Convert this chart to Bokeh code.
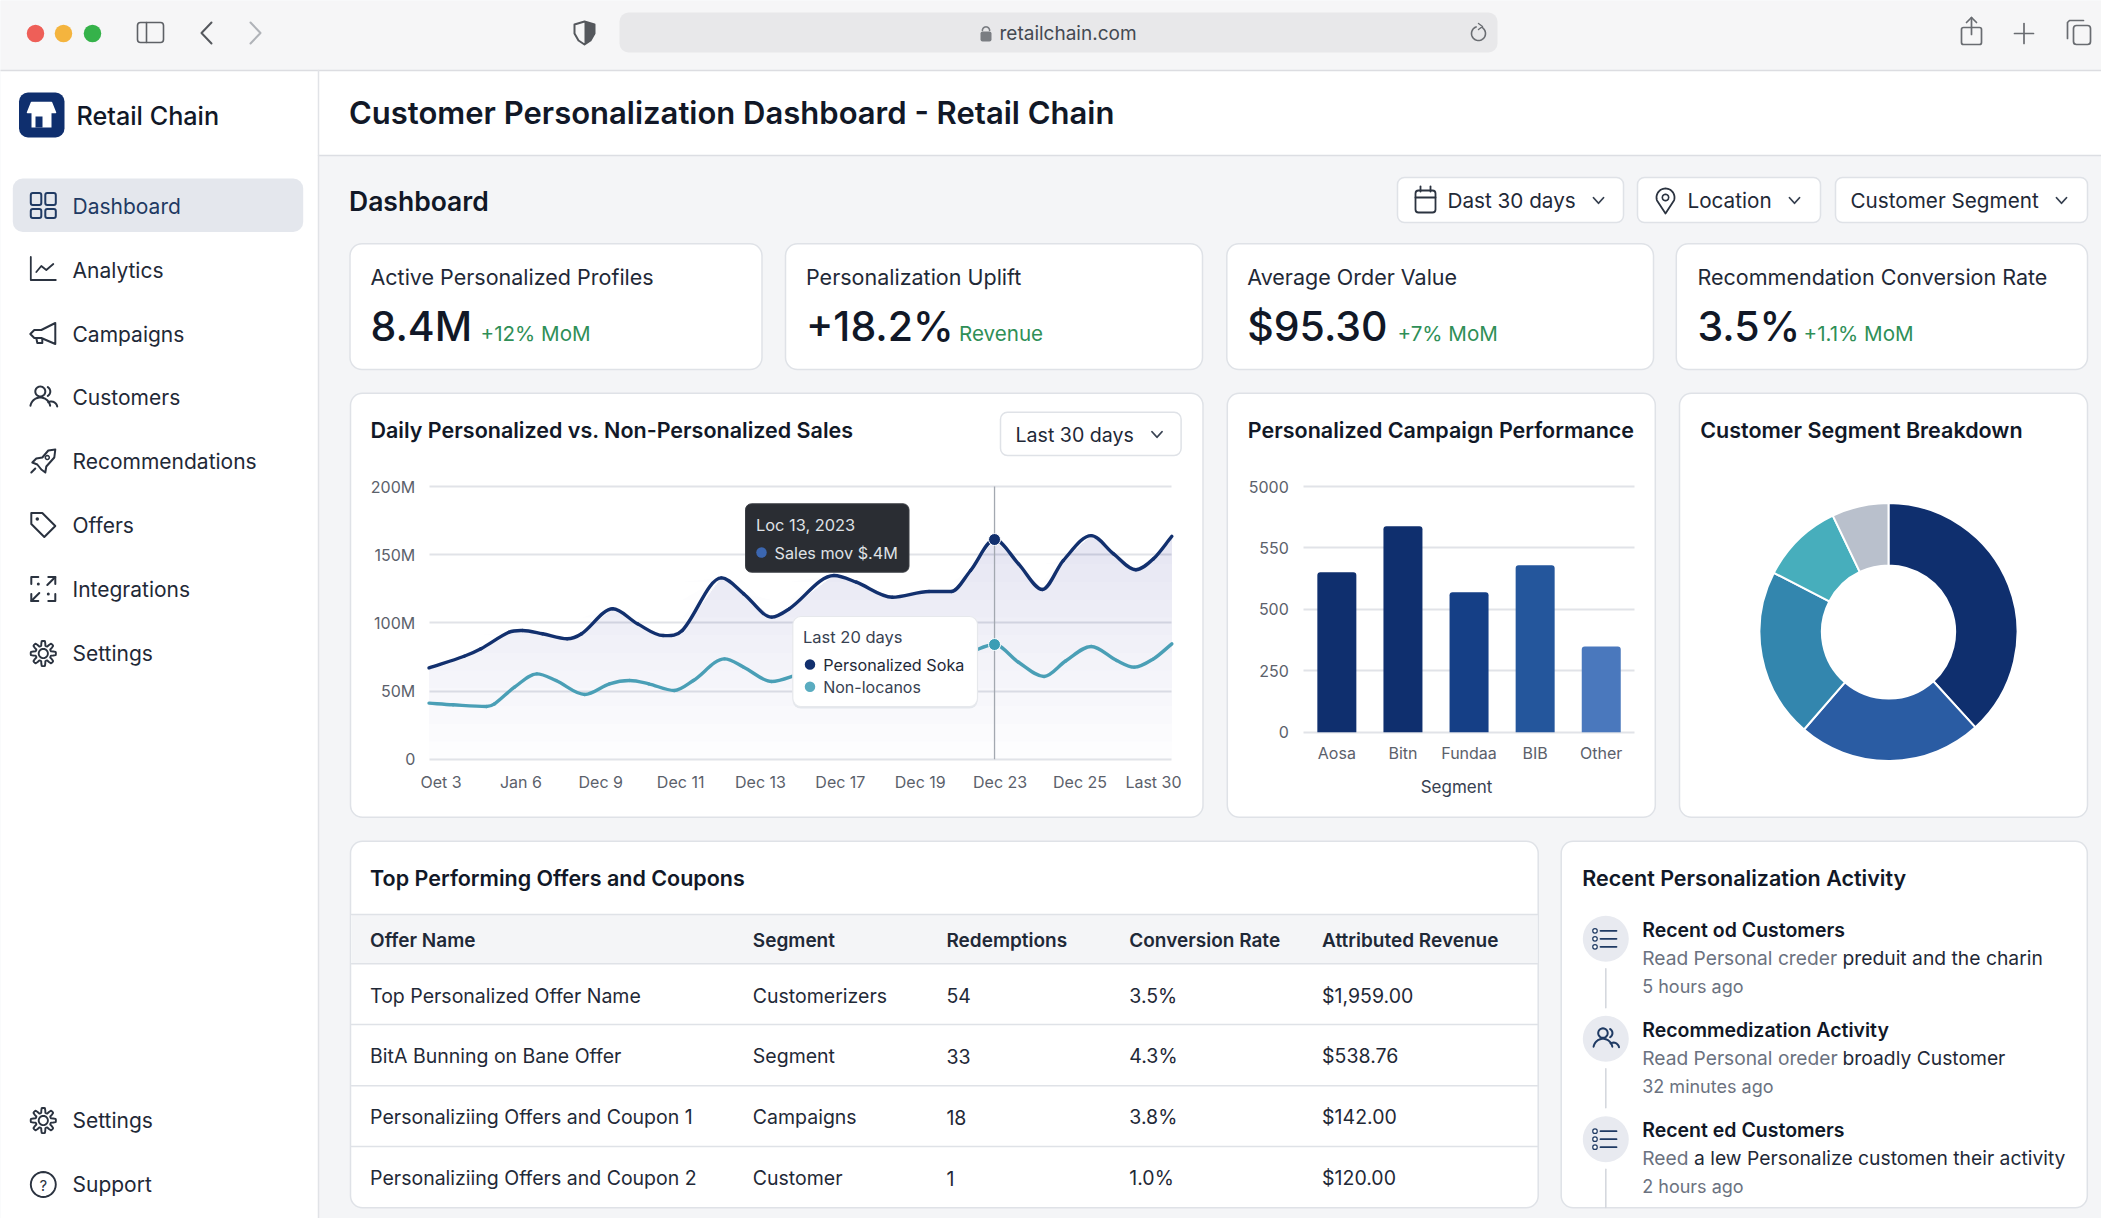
import math
from bokeh.plotting import figure
from bokeh.core.properties import value
from bokeh.models import Range1d, LinearAxis, FixedTicker, Grid
from bokeh.embed import file_html
from bokeh.resources import INLINE

# ---------- data ----------
line_days_personal = [-0.15,0.29,0.50,0.85,1.02,1.27,1.58,1.76,2.15,2.46,2.78,3.02,3.51,3.79,4.14,4.36,4.92,5.20,5.65,6.11,6.39,6.63,6.93,7.23,7.53,7.79,8.14,8.42,8.70,8.92,9.15]
personalized_sales = [67.0,75.5,81.0,93.1,94.4,92.0,88.3,92.0,110.3,99.3,90.7,94.4,133.0,121.3,104.2,110.3,134.7,129.8,118.8,123.0,123.0,138.4,161.1,143.3,124.5,145.7,164.0,150.6,138.9,147.0,163.5]
line_days_other = [-0.15,0.15,0.57,0.67,0.92,1.20,1.44,1.80,2.11,2.36,2.60,2.92,3.16,3.55,3.79,4.14,4.43,4.92,5.65,6.39,6.63,6.93,7.23,7.55,7.82,8.14,8.46,8.68,8.92,9.15]
other_sales = [41.1,39.9,38.7,40.6,52.8,62.6,57.7,47.5,55.3,57.7,55.3,50.4,57.7,73.6,67.5,57.0,61.4,72.0,70.0,74.0,78.5,84.1,71.1,60.7,72.0,82.7,72.4,67.5,73.6,84.6]
highlight_day = 6.93
highlight_personal = 161.1
highlight_other = 84.1
line_tick_pos = [0,1,2,3,4,5,6,7,8,8.92]
line_tick_labels = ["Oet 3","Jan 6","Dec 9","Dec 11","Dec 13","Dec 17","Dec 19","Dec 23","Dec 25","Last 30"]
line_y_ticks = [0,50,100,150,200]
line_y_labels = ["0","50M","100M","150M","200M"]

bar_categories = ["Aosa","Bitn","Fundaa","BIB","Other"]
bar_values = [651,838,570,679,349]
bar_y_ticks = [0,250,500,750,1000]
bar_y_labels = ["0","250","500","550","5000"]
bar_colors = ["#0f2f6e","#0f2f6e","#153f86","#24569c","#4a78bd"]

donut_values = [38.2,23.1,21.2,10.3,7.1]
donut_colors = ["#0f2f6e","#2a5ca3","#3386ae","#47aebc","#b9c0cc"]

nav_items = ["Dashboard","Analytics","Campaigns","Customers","Recommendations","Offers","Integrations","Settings"]
nav_bottom = ["Settings","Support"]

kpi_labels = ["Active Personalized Profiles","Personalization Uplift","Average Order Value","Recommendation Conversion Rate"]
kpi_values = ["8.4M","+18.2%","$95.30","3.5%"]
kpi_deltas = ["+12% MoM","Revenue","+7% MoM","+1.1% MoM"]

table_headers = ["Offer Name","Segment","Redemptions","Conversion Rate","Attributed Revenue"]
table_offers = ["Top Personalized Offer Name","BitA Bunning on Bane Offer","Personaliziing Offers and Coupon 1","Personaliziing Offers and Coupon 2"]
table_segments = ["Customerizers","Segment","Campaigns","Customer"]
table_redemptions = ["54","33","18","1"]
table_rates = ["3.5%","4.3%","3.8%","1.0%"]
table_revenue = ["$1,959.00","$538.76","$142.00","$120.00"]

activity_titles = ["Recent od Customers","Recommedization Activity","Recent ed Customers"]
activity_grey = ["Read Personal creder","Read Personal oreder","Reed"]
activity_dark = ["preduit and the charin","broadly Customer","a lew Personalize customen their activity"]
activity_times = ["5 hours ago","32 minutes ago","2 hours ago"]

# ---------- canvas in page pixels ----------
W, H = 2101, 1218
p = figure(width=W, height=H, x_range=Range1d(0, W), y_range=Range1d(H, 0),
           x_axis_type=None, y_axis_type=None, toolbar_location=None, output_backend="svg",
           min_border=0, outline_line_color=None, background_fill_color="#f4f5f7",
           border_fill_color="#f4f5f7")
p.grid.visible = False

FONT = "Inter"
HEAD = "Inter SemiBold"
MID = "Inter Medium"
INK = "#111827"
BODY = "#1f2937"
MUTE = "#6b7280"
ICON = "#2b3340"
GREEN = "#2f8f57"
LINE = "#dfe2e7"

def text(x, y, s, size, color=BODY, bold=False, align="left", font=FONT):
    if align == "left":
        x -= 1
    p.text([x], [y], text=[s], text_font=value(font), text_font_size=f"{size}px", text_color=color,
           text_font_style="bold" if bold else "normal", text_align=align, text_baseline="middle")

def box(l, t, r, b, fill="#ffffff", line=None, w=1.0, rad=0, level="image"):
    p.quad(left=[l], right=[r], top=[t], bottom=[b], fill_color=fill, line_color=line, line_width=w,
           border_radius=rad, level=level)

def path(pts, c=ICON, w=2.0, fill=None):
    xs = [a for a, _ in pts]
    ys = [b for _, b in pts]
    if fill:
        p.patch(xs, ys, fill_color=fill, line_color=None)
    if c:
        p.line(xs, ys, line_color=c, line_width=w, line_join="round", line_cap="round")

def arc(cx, cy, r, a0, a1, n=28):
    return [(cx + r*math.cos(math.radians(a0+(a1-a0)*i/n)), cy + r*math.sin(math.radians(a0+(a1-a0)*i/n))) for i in range(n+1)]

def chevron_down(cx, cy, c="#374151", s=5):
    path([(cx-s, cy-s*0.55), (cx, cy+s*0.55), (cx+s, cy-s*0.55)], c, 1.8)

def ranged(v0, px0, v1, px1, lo, hi):
    k = (v1-v0)/(px1-px0)
    return Range1d(v0+(lo-px0)*k, v0+(hi-px0)*k)

# ---------- page chrome ----------
box(0, 0, W, 70, "#f6f6f7", None)
box(0, 70, 318, H, "#ffffff", None)
box(318, 70, W, 155, "#ffffff", None)
path([(0, 70), (W, 70)], "#dcdde1", 1.5)
path([(318, 155), (W, 155)], "#dcdee3", 1.5)
path([(318, 70), (318, H)], "#e1e3e7", 1.5)

for cx, col in zip([35, 63, 92], ["#ee5f58", "#f4b43e", "#35b24a"]):
    p.scatter([cx], [33], size=17.5, fill_color=col, line_color=None)
box(137, 22, 163, 42, None, "#5e6166", 1.6, 3)
path([(146, 22), (146, 42)], "#5e6166", 1.6)
path([(211, 22), (201, 32.5), (211, 43)], "#55585d", 2.0)
path([(250, 22), (260, 32.5), (250, 43)], "#b0b3b8", 2.0)
# shield
sh = [(584, 21), (594, 24), (594, 33), (590, 40), (584, 44), (578, 40), (574, 33), (574, 24), (584, 21)]
path(sh, "#55585d", 2.0)
path([(584, 21), (594, 24), (594, 33), (590, 40), (584, 44), (584, 21)], None, fill="#55585d")
box(619, 12, 1497, 52, "#e8e8ea", None, rad=9)
text(1000, 33, "retailchain.com", 19, "#444a52")
box(980, 31, 991, 41, "#7a7d82", None, rad=2, level="glyph")
path(arc(985.5, 30, 3.6, 180, 360), "#7a7d82", 1.6)
path(arc(1478, 33, 7, -60, 250), "#6a6d72", 1.6)
path([(1478, 23), (1482, 26), (1478, 29)], "#6a6d72", 1.4)
# share / plus / tabs
box(1961, 27, 1981, 44, None, "#696c71", 1.7, 2)
path([(1971, 17), (1971, 34)], "#696c71", 1.7)
path([(1966, 22), (1971, 17), (1976, 22)], "#696c71", 1.7)
path([(2014, 33), (2033, 33)], "#696c71", 1.7)
path([(2023.5, 23), (2023.5, 43)], "#696c71", 1.7)
box(2073, 25, 2090, 44, None, "#696c71", 1.7, 3)
path([(2067, 38), (2067, 22), (2069, 20), (2083, 20)], "#696c71", 1.7)

# ---------- sidebar ----------
box(18.5, 92, 64, 137, "#0f2f6e", None, rad=9)
path([(31, 102), (51, 102), (55, 112), (27, 112), (31, 102)], "#ffffff", 1.5, "#ffffff")
box(31, 112, 51, 127, "#ffffff", None, level="glyph")
box(35, 116, 42, 127, "#0f2f6e", None, level="glyph")
text(77, 115, "Retail Chain", 25.2, INK, font=MID)

box(12.3, 178, 302.7, 231.5, "#e4e7ed", None, rad=10)
nav_y = [205.5, 269.5, 333.5, 397, 461, 524.5, 588.5, 653]
for i, (n, y) in enumerate(zip(nav_items, nav_y)):
    text(73, y, n, 21, "#1f3a63" if i == 0 else "#1f2937")

def ic_dash(cx, cy, c="#1f3a63"):
    for l, t, r, b in [(-12.5, -13, -2, -1), (2, -13, 12.5, -1), (-12.5, 3, -2, 12), (2, 3, 12.5, 12)]:
        box(cx+l, cy+t, cx+r, cy+b, None, c, 2, 2, level="glyph")

def ic_chart(cx, cy, c=ICON):
    path([(cx-12.5, cy-13), (cx-12.5, cy+10), (cx+12.5, cy+10)], c, 1.8)
    path([(cx-7, cy+2), (cx-2, cy-4), (cx+3, cy), (cx+10, cy-6)], c, 1.8)

def ic_horn(cx, cy, c=ICON):
    path([(cx+12, cy-11), (cx+12, cy+10), (cx-2, cy+4), (cx-9, cy+4), (cx-13, cy), (cx-9, cy-4), (cx-2, cy-4), (cx+12, cy-11)], c, 2)
    path([(cx-7, cy+4), (cx-6, cy+9), (cx-1, cy+9), (cx-1, cy+5)], c, 2)

def ic_users(cx, cy, c=ICON, s=1.0):
    path(arc(cx-3*s, cy-6*s, 5*s, 0, 360), c, 2)
    path(arc(cx-3*s, cy+10*s, 10*s, 190, 350), c, 2)
    path(arc(cx+2*s, cy-6*s, 5*s, -60, 60, 10), c, 2)
    path(arc(cx+8*s, cy+10*s, 6*s, 240, 350, 10), c, 2)

def ic_rocket(cx, cy, c=ICON):
    path([(cx+12, cy-12), (cx+11, cy-4), (cx+3, cy+5), (cx+2, cy+11), (cx-2, cy+8), (cx-6, cy+3), (cx-11, cy+1), (cx-7, cy-3), (cx-1, cy-4), (cx+5, cy-11), (cx+12, cy-12)], c, 2)
    path(arc(cx+4, cy-4, 2, 0, 360, 12), c, 1.5)
    path([(cx-8, cy+7), (cx-12, cy+11)], c, 2)

def ic_tag(cx, cy, c=ICON):
    path([(cx-12, cy-12), (cx-1, cy-12), (cx+12, cy+1), (cx+1, cy+12), (cx-12, cy-1), (cx-12, cy-12)], c, 2)
    p.scatter([cx-6], [cy-6], size=3.5, fill_color=c, line_color=None)

def ic_expand(cx, cy, c=ICON):
    path([(cx-12, cy-5), (cx-12, cy-12), (cx-5, cy-12)], c, 2)
    path([(cx+12, cy+5), (cx+12, cy+12), (cx+5, cy+12)], c, 2)
    path([(cx+5, cy-12), (cx+12, cy-12), (cx+12, cy-5)], c, 2)
    path([(cx+4, cy-4), (cx+12, cy-12)], c, 2)
    path([(cx-12, cy+5), (cx-12, cy+12), (cx-5, cy+12)], c, 2)
    path([(cx-4, cy+4), (cx-12, cy+12)], c, 2)
    p.scatter([cx-5, cx+5], [cy-5, cy+5], size=3, fill_color=c, line_color=None)

def ic_gear(cx, cy, c=ICON):
    pts = []
    for i in range(97):
        a = 2*math.pi*i/96
        r = 10.2 + 2.4*math.tanh(3*math.cos(8*a))
        pts.append((cx+r*math.cos(a), cy+r*math.sin(a)))
    path(pts, c, 1.9)
    path(arc(cx, cy, 4.6, 0, 360), c, 1.9)

icons = [ic_dash, ic_chart, ic_horn, ic_users, ic_rocket, ic_tag, ic_expand, ic_gear]
for f, y in zip(icons, nav_y):
    f(42.8, y)

for n, y in zip(nav_bottom, [1120, 1184]):
    text(73, y, n, 21, "#1f2937")
ic_gear(42.8, 1120)
path(arc(42.8, 1184, 12.5, 0, 360), ICON, 1.9)
text(42.8, 1184.5, "?", 15, ICON, align="center")

# ---------- header ----------
text(349.5, 111.7, "Customer Personalization Dashboard - Retail Chain", 31, INK, font=HEAD)
text(349.5, 200, "Dashboard", 26.5, INK, font=HEAD)

for (l, r) in [(1397, 1623), (1637, 1820), (1835, 2087)]:
    box(l, 177, r, 222, "#ffffff", LINE, 1.5, 7)
for x, s in zip([1448, 1688, 1851], ["Dast 30 days", "Location", "Customer Segment"]):
    text(x, 200, s, 20.7, BODY)
for x in [1598, 1794, 2061]:
    chevron_down(x, 200)
box(1415, 190, 1435, 212, None, ICON, 1.8, 3, level="glyph")
path([(1415, 197), (1435, 197)], ICON, 1.8)
path([(1420, 186), (1420, 191)], ICON, 1.8)
path([(1430, 186), (1430, 191)], ICON, 1.8)
path(arc(1665, 197, 9, 160, 380) + [(1665, 213), (1656.5, 200)], ICON, 1.8)
path(arc(1665, 197, 3.2, 0, 360, 14), ICON, 1.6)

# ---------- KPI cards ----------
kpi_boxes = [(349.5, 761.5), (785, 1202), (1226.3, 1653), (1675.8, 2087)]
kpi_x = [371, 806.5, 1247.8, 1698]
kpi_dx = [481, 959.5, 1398, 1804]
for (l, r), x, dx, a, b, c in zip(kpi_boxes, kpi_x, kpi_dx, kpi_labels, kpi_values, kpi_deltas):
    box(l, 243.3, r, 369, "#ffffff", LINE, 1.5, 12)
    text(x, 276.5, a, 21.5, BODY)
    text(x, 325.5, b, 41, INK, font=MID)
    text(dx, 333, c, 20.6, GREEN)

# ---------- chart cards ----------
box(350, 392.7, 1202.5, 816.7, "#ffffff", LINE, 1.5, 12)
box(1226.8, 392.7, 1654.8, 816.7, "#ffffff", LINE, 1.5, 12)
box(1679, 392.7, 2087, 816.7, "#ffffff", LINE, 1.5, 12)
text(371, 429.5, "Daily Personalized vs. Non-Personalized Sales", 21.5, INK, font=HEAD)
text(1248.3, 429.5, "Personalized Campaign Performance", 21.5, INK, font=HEAD)
text(1700.7, 429.5, "Customer Segment Breakdown", 21.5, INK, font=HEAD)
box(1000, 411.7, 1180.6, 455, "#ffffff", LINE, 1.5, 7)
text(1016, 434, "Last 30 days", 19.6, BODY)
chevron_down(1156.5, 434)

# ---------- line chart ----------
p.extra_x_ranges["line_x"] = ranged(0, 440.5, 8, 1079.5, 0, W)
p.extra_y_ranges["line_y"] = ranged(0, 758.7, 200, 486, H, 0)
LR = dict(x_range_name="line_x", y_range_name="line_y")
LEFT_V, RIGHT_V = -0.147, 9.147

g = Grid(dimension=1, ticker=FixedTicker(ticks=line_y_ticks), grid_line_color="#e1e3e8", grid_line_width=2, **LR)
g.cross_bounds = (LEFT_V, RIGHT_V)
p.add_layout(g)

for k in range(12):
    lev = 13*k
    p.varea(x=line_days_personal, y1=[lev]*len(personalized_sales),
            y2=[max(v, lev) for v in personalized_sales],
            fill_color="#4848a3", fill_alpha=0.012, **LR)

def smooth(xs, ys, color, width):
    n = len(xs)
    slopes = []
    for i in range(n):
        a, b = max(i-1, 0), min(i+1, n-1)
        if 0 < i < n-1 and (ys[i]-ys[a])*(ys[b]-ys[i]) <= 0:
            slopes.append(0.0)
        else:
            slopes.append((ys[b]-ys[a])/(xs[b]-xs[a]))
    x0, y0, x1, y1, cx0, cy0, cx1, cy1 = [], [], [], [], [], [], [], []
    for i in range(n-1):
        dx = xs[i+1]-xs[i]
        x0.append(xs[i]); y0.append(ys[i]); x1.append(xs[i+1]); y1.append(ys[i+1])
        cx0.append(xs[i]+dx/3); cy0.append(ys[i]+slopes[i]*dx/3)
        cx1.append(xs[i+1]-dx/3); cy1.append(ys[i+1]-slopes[i+1]*dx/3)
    p.bezier(x0=x0, y0=y0, x1=x1, y1=y1, cx0=cx0, cy0=cy0, cx1=cx1, cy1=cy1,
             line_color=color, line_width=width, line_cap="round", **LR)

smooth(line_days_other, other_sales, "#4a9fb6", 3.4)
smooth(line_days_personal, personalized_sales, "#12306e", 3.4)

p.segment([highlight_day], [0], [highlight_day], [200], line_color="#a3a8b0", line_width=1.3, **LR)
p.scatter([highlight_day], [highlight_personal], size=12, fill_color="#12306e", line_color="#ffffff", line_width=1, **LR)
p.scatter([highlight_day], [highlight_other], size=12, fill_color="#3a9db5", line_color="#ffffff", line_width=1, **LR)

ax = LinearAxis(ticker=FixedTicker(ticks=line_y_ticks), major_label_overrides=dict(zip(line_y_ticks, line_y_labels)),
                fixed_location=LEFT_V, **LR)
bx = LinearAxis(ticker=FixedTicker(ticks=line_tick_pos), major_label_overrides=dict(zip(line_tick_pos, line_tick_labels)),
                fixed_location=0, **LR)
for a_, side, st in [(ax, "left", 14), (bx, "below", 13)]:
    a_.axis_line_color = None
    a_.major_tick_line_color = None
    a_.minor_tick_line_color = None
    a_.major_tick_out = 0
    a_.major_label_standoff = st
    a_.major_label_text_font = FONT
    a_.major_label_text_font_size = "16px"
    a_.major_label_text_color = "#5b616b"
    p.add_layout(a_, side)

# tooltips
box(745, 503.3, 908.5, 571.7, "#2a2d33", "#3b3e44", 1, 6, level="glyph")
text(756.4, 524, "Loc 13, 2023", 16.4, "#dfe1e5")
p.scatter([761], [552], size=10.5, fill_color="#3b66b0", line_color=None)
text(775, 552, "Sales mov $.4M", 16.2, "#dfe1e5")
box(792.3, 618, 977, 708, "#e4e7ec", None, rad=8, level="glyph")
box(792.3, 616, 977, 706, "#ffffff", "#e6e8ec", 1.2, 8, level="glyph")
text(803.5, 636, "Last 20 days", 16.5, "#374151")
p.scatter([809.5], [664], size=10.5, fill_color="#12306e", line_color=None)
text(823.7, 664, "Personalized Soka", 16.2, "#1f2937")
p.scatter([809.5], [686.3], size=10.5, fill_color="#5aacc0", line_color=None)
text(823.7, 686.3, "Non-locanos", 16, "#374151")

# ---------- bar chart ----------
p.extra_x_ranges["bar_x"] = ranged(-0.5, 1303.3, 4.5, 1633.8, 0, W)
p.extra_y_ranges["bar_y"] = ranged(0, 731.7, 1000, 486, H, 0)
BR = dict(x_range_name="bar_x", y_range_name="bar_y")
g2 = Grid(dimension=1, ticker=FixedTicker(ticks=bar_y_ticks), grid_line_color="#e1e3e8", grid_line_width=2, **BR)
g2.cross_bounds = (-0.5, 4.5)
p.add_layout(g2)
bar_idx = list(range(len(bar_categories)))
p.vbar(x=bar_idx, top=bar_values, bottom=0, width=0.59, fill_color=bar_colors, line_color=None,
       border_radius=dict(top_left=3, top_right=3, bottom_right=0, bottom_left=0), **BR)
ay2 = LinearAxis(ticker=FixedTicker(ticks=bar_y_ticks), major_label_overrides=dict(zip(bar_y_ticks, bar_y_labels)),
                 fixed_location=-0.5, **BR)
ax2 = LinearAxis(ticker=FixedTicker(ticks=bar_idx), major_label_overrides=dict(zip(bar_idx, bar_categories)),
                 fixed_location=0, **BR)
for a_, side, st in [(ay2, "left", 15), (ax2, "below", 11)]:
    a_.axis_line_color = None
    a_.major_tick_line_color = None
    a_.minor_tick_line_color = None
    a_.major_tick_out = 0
    a_.major_label_standoff = st
    a_.major_label_text_font = FONT
    a_.major_label_text_font_size = "16px"
    a_.major_label_text_color = "#5b616b"
    p.add_layout(a_, side)
text(1456, 786.7, "Segment", 17, "#374151", align="center")

# ---------- donut ----------
p.extra_x_ranges["pie_x"] = ranged(0, 1888, 100, 1988, 0, W)
p.extra_y_ranges["pie_y"] = ranged(0, 631.5, 100, 531.5, H, 0)
total = sum(donut_values)
c0 = 0.0
starts, ends = [], []
for v in donut_values:
    starts.append(math.pi/2 - 2*math.pi*c0/total)
    c0 += v
    ends.append(math.pi/2 - 2*math.pi*c0/total)
p.annular_wedge(x=[0]*5, y=[0]*5, inner_radius=66.6, outer_radius=129, start_angle=starts, end_angle=ends,
                direction="clock", fill_color=donut_colors, line_color="#ffffff", line_width=2,
                x_range_name="pie_x", y_range_name="pie_y")

# ---------- table ----------
box(350, 840.7, 1537.7, 1207.3, "#ffffff", LINE, 1.5, 12)
text(370.6, 877.8, "Top Performing Offers and Coupons", 21.5, INK, font=HEAD)
box(351, 914, 1537, 963.3, "#f4f5f7", None)
for y in [914, 963.3, 1024, 1085.3, 1146]:
    path([(351, y), (1537, y)], "#dfe2e7", 1.6)
cols = [370.6, 753.3, 946.9, 1129.8, 1322.6]
for x, h in zip(cols, table_headers):
    text(x, 940, h, 19, "#1f2937", font=HEAD)
rows_y = [995, 1055.7, 1116.9, 1177.5]
for col_x, column in zip(cols, [table_offers, table_segments, table_redemptions, table_rates, table_revenue]):
    for y, s in zip(rows_y, column):
        text(col_x, y, s, 19.5, "#1f2937")

# ---------- activity ----------
box(1560.7, 840.7, 2086.8, 1207.3, "#ffffff", LINE, 1.5, 12)
text(1582.8, 877.8, "Recent Personalization Activity", 21.5, INK, font=HEAD)
act_y = [938.3, 1038.3, 1138.7]
for i, cy in enumerate(act_y):
    p.scatter([1605.3], [cy], size=46, fill_color="#e8eaf0", line_color=None)
    path([(1605.3, cy+30), (1605.3, min(cy+69, 1207))], "#d5d8de", 1.6)
    if i == 1:
        ic_users(1605.3, cy, "#1f3a63", 0.95)
    else:
        for dy in [-8, 0, 8]:
            path([(1600, cy+dy), (1616, cy+dy)], "#1f3a63", 1.8)
            p.scatter([1594.5], [cy+dy], size=4.5, fill_color="#ffffff", line_color="#1f3a63", line_width=1.2)
    top = cy - 9.3
    text(1642.7, top, activity_titles[i], 19.5, INK, font=HEAD)
    text(1642.7, top+28.3, activity_grey[i], 19.2, MUTE)
    text(1694.5 if i == 2 else 1843, top+28.3, activity_dark[i], 19.3, "#1f2937")
    text(1642.7, top+56.7, activity_times[i], 18, MUTE)

open("out.html", "w").write(file_html(p, INLINE))
